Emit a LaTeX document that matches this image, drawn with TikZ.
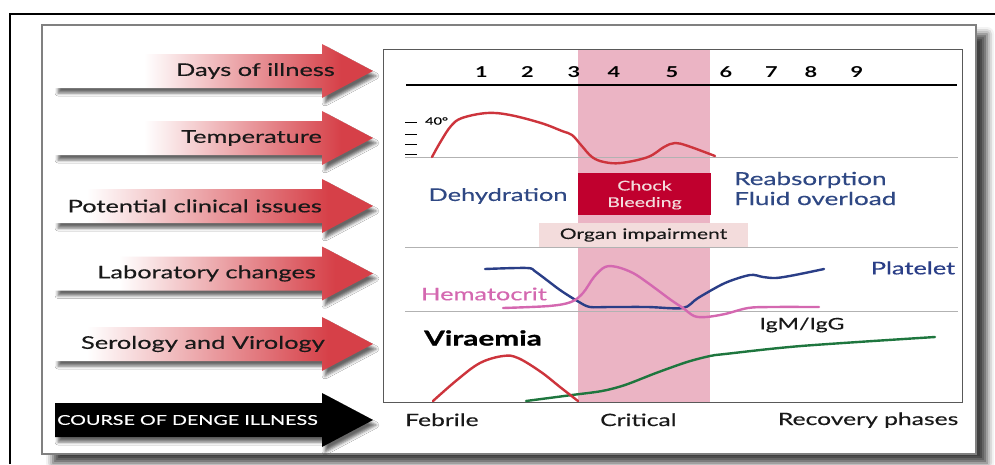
\documentclass[tikz,border=0pt]{standalone}
\usepackage{fontspec}
\setmainfont{Lato}[FakeStretch=1.45,UprightFeatures={FakeBold=0.35}]
\usetikzlibrary{shadows.blur}
\definecolor{arrowred}{RGB}{214,64,72}
\definecolor{tempred}{RGB}{205,52,60}
\definecolor{navy}{RGB}{47,72,132}
\definecolor{platblue}{RGB}{42,62,135}
\definecolor{hemapink}{RGB}{212,104,176}
\definecolor{igmgreen}{RGB}{30,118,62}
\definecolor{bandpink}{RGB}{235,180,196}
\definecolor{chockred}{RGB}{192,0,46}
\definecolor{organpink}{RGB}{243,220,220}
\definecolor{inktext}{RGB}{25,25,25}
\pgfdeclarehorizontalshading{arrA}{100bp}{color(0bp)=(white); color(39bp)=(white); color(70bp)=(arrowred); color(100bp)=(arrowred)}
\pgfdeclarehorizontalshading{arrB}{100bp}{color(0bp)=(white); color(35bp)=(white); color(69bp)=(arrowred); color(100bp)=(arrowred)}
\pgfdeclarehorizontalshading{arrC}{100bp}{color(0bp)=(white); color(30bp)=(white); color(68bp)=(arrowred); color(100bp)=(arrowred)}
\newcommand{\ArrowPath}[1]{(55,#1-17) -- (322,#1-17) -- (322,#1-27) -- (373,#1) -- (322,#1+27) -- (322,#1+17) -- (55,#1+17) -- cycle}
\begin{document}
\begin{tikzpicture}[x=1pt,y=-1pt,
  arrowbody/.style={blur shadow={shadow xshift=3pt,shadow yshift=-5pt,shadow blur radius=3pt,shadow opacity=60}},
  arrowlabel/.style={anchor=east,text=inktext,font=\fontsize{17.5}{20}\selectfont,inner sep=0pt},
  daynum/.style={font=\fontsize{15}{18}\selectfont\bfseries,inner sep=0pt},
  bluetext/.style={text=navy,font=\fontsize{17.5}{21}\selectfont,inner sep=0pt},
  phase/.style={text=inktext,font=\fontsize{17}{20}\selectfont,inner sep=0pt},
  gridline/.style={draw=black!30,line width=0.8pt},
  curve/.style={line width=2.4pt,line cap=round,line join=round}]
\useasboundingbox (0,0) rectangle (995,464);
% outer frame
\draw[line width=1.5pt] (10,464) -- (10,14) -- (995,14);
% inner frame
\path[fill=white,draw=black!50,line width=1.3pt,
  blur shadow={shadow xshift=11pt,shadow yshift=-9pt,shadow blur radius=7pt,shadow opacity=75}]
  (42,25) rectangle (976,454);
% left arrows
\path[arrowbody,shading=arrA] \ArrowPath{71};
\path[arrowbody,shading=arrA] \ArrowPath{138};
\path[arrowbody,shading=arrC] \ArrowPath{206};
\path[arrowbody,shading=arrB] \ArrowPath{273.5};
\path[arrowbody,shading=arrC] \ArrowPath{344};
\path[arrowbody,fill=black] \ArrowPath{420};
\node[arrowlabel] (ldays) at (335,71) {Days of illness};
\node[arrowlabel] (ltemp) at (322,138) {Temperature};
\node[arrowlabel] (lpot) at (322,206) {Potential clinical issues};
\node[arrowlabel] (llab) at (316,273.5) {Laboratory changes};
\node[arrowlabel] (lsero) at (325,344) {Serology and Virology};
\node[arrowlabel,text=white,font=\fontsize{13.6}{16}\selectfont] (lcourse) at (318,420) {COURSE OF DENGE ILLNESS};
% chart box
\path[fill=white,draw=black!65,line width=1pt] (383,49) rectangle (962,402);
\fill[bandpink] (578,49.5) rectangle (709.5,401.5);
\draw[black!65,line width=1pt] (383,49) rectangle (962,402);
% grid lines
\draw[gridline] (405,157) -- (958,157);
\draw[gridline] (405,247) -- (958,247);
\draw[gridline] (405,311) -- (958,311);
\draw[line width=2pt] (406,85) -- (957,85);
% day numbers
\foreach \x/\n in {481.5/1,527.5/2,574/3,614/4,672/5,726/6,771.5/7,811/8,857/9}
  \node[daynum] (d\n) at (\x,72) {\n};
% temperature
\foreach \y in {122,134,144,154} \draw[line width=1pt] (405,\y) -- (417,\y);
\node[inner sep=0pt,font=\fontsize{10}{12}\selectfont,anchor=west] (t40) at (425,121) {40°};
\draw[curve,tempred] plot[smooth,tension=0.6] coordinates {(432,157) (441,141) (451,126) (462,118) (487,113) (510,115) (541,123) (562,131) (572,135) (581,145) (592,157) (604,162) (621,163) (648,157) (664,147) (675,143) (688,146) (715,156)};
% clinical issues
\node[bluetext] (dehyd) at (498,196) {Dehydration};
\node[fill=chockred,minimum width=133pt,minimum height=42pt,inner sep=0pt] (chock) at (644.5,194) {};
\node[text=organpink,font=\fontsize{13.5}{16.5}\selectfont,align=center,inner sep=0pt] (chocktext) at (644.5,195) {Chock\\Bleeding};
\node[bluetext,anchor=west,align=left,font=\fontsize{18}{20}\selectfont] (reabs) at (734,188.5) {Reabsorption\\Fluid overload};
\node[fill=organpink,minimum width=209pt,minimum height=24pt,inner sep=0pt] (organ) at (643.5,235) {};
\node[text=inktext,font=\fontsize{14.5}{16}\selectfont,inner sep=0pt] (organtext) at (643.5,235) {Organ impairment};
% laboratory
\draw[curve,platblue] plot[smooth,tension=0.5] coordinates {(485,269) (527,268) (536,272) (560,290) (579,302) (590,307) (610,307) (648,307) (683,308) (698,298) (725,283) (750,275) (763,277) (776,278) (795,275) (824,269)};
\draw[curve,hemapink] plot[smooth,tension=0.55] coordinates {(503,308) (549,306) (571,302) (583,293) (594,277) (605,267) (617,267) (633,273) (648,283) (671,300) (683,308) (694,316) (706,317) (725,314) (748,308) (771,307) (819,307)};
\node[bluetext,text=platblue] (plat) at (913,268) {Platelet};
\node[bluetext,text=hemapink] (hema) at (484,294) {Hematocrit};
% serology
\node[text=inktext,font=\fontsize{16}{19}\selectfont,inner sep=0pt] (igm) at (802,325) {IgM/IgG};
\node[text=black,font=\fontsize{20.5}{24}\selectfont\bfseries\addfontfeatures{FakeBold=1.2},inner sep=0pt] (vir) at (483,338) {Viraemia};
\draw[curve,igmgreen] plot[smooth,tension=0.5] coordinates {(526,401) (572,395) (602,391) (625,385) (656,373) (687,362) (710,356) (725,354) (801,346) (935,337)};
\draw[curve,tempred] plot[smooth,tension=0.6] coordinates {(433,401) (457,380) (480,363) (503,356) (518,358) (541,372) (560,387) (578,401)};
% phases
\node[phase,anchor=base west] (feb) at (405,426) {Febrile};
\node[phase,anchor=base west] (crit) at (600,426) {Critical};
\node[phase,anchor=base east] (rec) at (958.5,425) {Recovery phases};
\end{tikzpicture}
\end{document}
